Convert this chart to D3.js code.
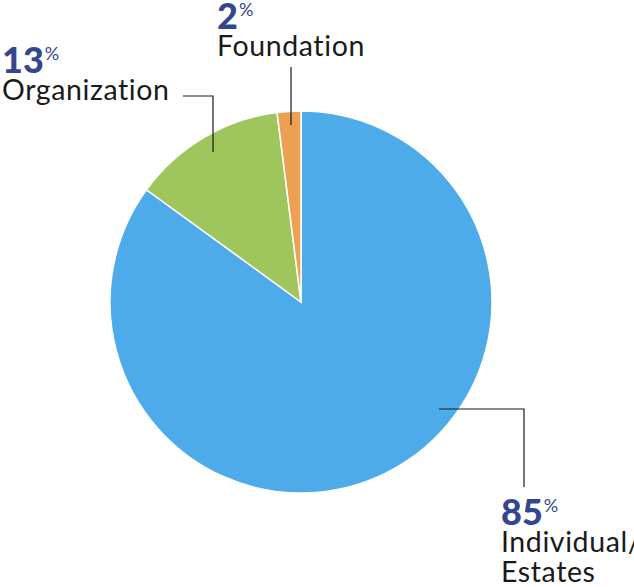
<!DOCTYPE html>
<html>
<head>
<meta charset="utf-8">
<script src="https://cdn.jsdelivr.net/npm/d3@7"></script>
<style>
  body { margin: 0; background: #fff; }
  svg { display: block; }
  text { font-variant-ligatures: none; }
</style>
</head>
<body>
<svg id="chart" width="634" height="587"></svg>
<script>
// Slice data, clockwise from 12 o'clock
const categories = ['Individual/ Estates', 'Organization', 'Foundation'];
const values = [85, 13, 2];
const colors = ['#4eabe9', '#9ec65d', '#eba052'];

const width = 634;
const height = 587;
const cx = 301;
const cy = 302;
const radius = 191;

const svg = d3.select('#chart');

const pie = d3.pie()
    .sort(null)
    .value(d => d.value);

const arc = d3.arc()
    .innerRadius(0)
    .outerRadius(radius);

const slices = pie(categories.map((c, i) => ({ name: c, value: values[i], color: colors[i] })));

const g = svg.append('g')
    .attr('transform', `translate(${cx},${cy})`);

g.selectAll('path.slice')
    .data(slices)
    .enter().append('path')
    .attr('class', 'slice')
    .attr('d', arc)
    .attr('fill', d => d.data.color)
    .attr('stroke', '#fff')
    .attr('stroke-width', 1.5);

// Label layout (text block position + leader line), per slice
const labelLayout = [
    { x: 501, y: 525, lines: ['Individual/', 'Estates'], leader: [[439, 409], [524, 409], [524, 487]] },
    { x: 2, y: 73, lines: ['Organization'], leader: [[183, 96], [213, 96], [213, 152]] },
    { x: 217, y: 29, lines: ['Foundation'], leader: [[291, 67], [291, 125]] }
];

const line = d3.line();

slices.forEach((s, i) => {
    const lay = labelLayout[i];

    svg.append('path')
        .attr('d', line(lay.leader))
        .attr('fill', 'none')
        .attr('stroke', '#1a1a1a')
        .attr('stroke-width', 1.2);

    const t = svg.append('text')
        .attr('x', lay.x)
        .attr('y', lay.y)
        .style('font-family', 'Lato, sans-serif')
        .style('fill', '#34468e');
    t.append('tspan')
        .style('font-size', '36px')
        .style('font-weight', 900)
        .text(s.data.value);
    t.append('tspan')
        .attr('dx', 1)
        .attr('dy', -13)
        .style('font-size', '18px')
        .style('font-weight', 400)
        .text('%');

    lay.lines.forEach((ln, j) => {
        svg.append('text')
            .attr('x', lay.x)
            .attr('y', lay.y + 27 + j * 30)
            .style('font-family', 'Lato, sans-serif')
            .style('font-size', '28.5px')
            .style('letter-spacing', '0.6px')
            .style('fill', '#1a1a1a')
            .text(ln);
    });
});
</script>
</body>
</html>
